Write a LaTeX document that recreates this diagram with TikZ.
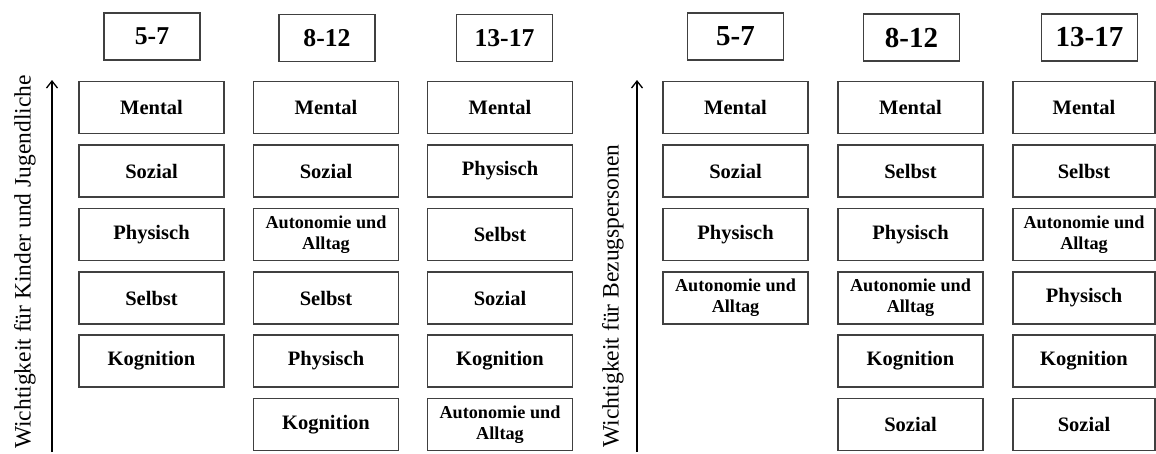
\documentclass[tikz,border=0pt]{standalone}
\usepackage{fontspec}
\setmainfont{Liberation Serif}
\usetikzlibrary{arrows.meta}
\begin{document}
\begin{tikzpicture}[x=1pt,y=-1pt,
  cat/.style={draw=black!75, line width=1.3pt, minimum width=145pt, minimum height=52pt, inner sep=0pt, align=center, font=\bfseries\fontsize{20.5}{22}\selectfont},
  cattwo/.style={cat, font=\bfseries\fontsize{18.2}{21}\selectfont},
  head/.style={draw=black!75, line width=1.3pt, minimum width=96pt, minimum height=47pt, inner sep=0pt, font=\bfseries\fontsize{25.7}{28}\selectfont},
  headR/.style={head, font=\bfseries\fontsize{29}{31}\selectfont},
  axis/.style={line width=1.3pt, -{Straight Barb[length=7pt,width=11pt,line width=1.3pt]}},
  axlabel/.style={rotate=90, inner sep=0pt, font=\fontsize{23.5}{25}\selectfont}]
\useasboundingbox (0,0) rectangle (1156,453);

% headers
\node[head]  (h1) at (152,36.5) {5-7};
\node[head]  (h2) at (327,38) {8-12};
\node[head]  (h3) at (504.5,38) {13-17};
\node[headR] (h4) at (735.5,36.5) {5-7};
\node[headR] (h5) at (911.5,37.5) {8-12};
\node[headR] (h6) at (1089.5,37.5) {13-17};

% column 1
\node[cat] (a1) at (151.5,107.5) {Mental};
\node[cat] (a2) at (151.5,171) {Sozial};
\node[cat] (a3) at (151.5,234.5) {Physisch};
\node[cat] (a4) at (151.5,298) {Selbst};
\node[cat] (a5) at (151.5,361) {Kognition};

% column 2
\node[cat] (b1) at (326,107.5) {Mental};
\node[cat] (b2) at (326,171) {Sozial};
\node[cattwo] (b3) at (326,234.5) {Autonomie und\\Alltag};
\node[cat] (b4) at (326,298) {Selbst};
\node[cat] (b5) at (326,361) {Physisch};
\node[cat] (b6) at (326,424.5) {Kognition};

% column 3
\node[cat] (c1) at (500,107.5) {Mental};
\node[cat] (c2) at (500,171) {Physisch};
\node[cat] (c3) at (500,234.5) {Selbst};
\node[cat] (c4) at (500,298) {Sozial};
\node[cat] (c5) at (500,361) {Kognition};
\node[cattwo] (c6) at (500,424.5) {Autonomie und\\Alltag};

% column 4
\node[cat] (d1) at (735.5,107.5) {Mental};
\node[cat] (d2) at (735.5,171) {Sozial};
\node[cat] (d3) at (735.5,234.5) {Physisch};
\node[cattwo] (d4) at (735.5,298) {Autonomie und\\Alltag};

% column 5
\node[cat] (e1) at (910.5,107.5) {Mental};
\node[cat] (e2) at (910.5,171) {Selbst};
\node[cat] (e3) at (910.5,234.5) {Physisch};
\node[cattwo] (e4) at (910.5,298) {Autonomie und\\Alltag};
\node[cat] (e5) at (910.5,361) {Kognition};
\node[cat] (e6) at (910.5,424.5) {Sozial};

% column 6
\node[cat, minimum width=142pt] (f1) at (1084,107.5) {Mental};
\node[cat, minimum width=142pt] (f2) at (1084,171) {Selbst};
\node[cattwo, minimum width=142pt] (f3) at (1084,234.5) {Autonomie und\\Alltag};
\node[cat, minimum width=142pt] (f4) at (1084,298) {Physisch};
\node[cat, minimum width=142pt] (f5) at (1084,361) {Kognition};
\node[cat, minimum width=142pt] (f6) at (1084,424.5) {Sozial};

% axes
\coordinate (s1) at (52,452);
\coordinate (t1) at (52,80);
\draw[axis] (s1) -- (t1);
\coordinate (s2) at (637,452);
\coordinate (t2) at (637,80);
\draw[axis] (s2) -- (t2);

\node[axlabel] (l1) at (25,262) {Wichtigkeit für Kinder und Jugendliche};
\node[axlabel] (l2) at (613,296) {Wichtigkeit für Bezugspersonen};
\end{tikzpicture}
\end{document}
